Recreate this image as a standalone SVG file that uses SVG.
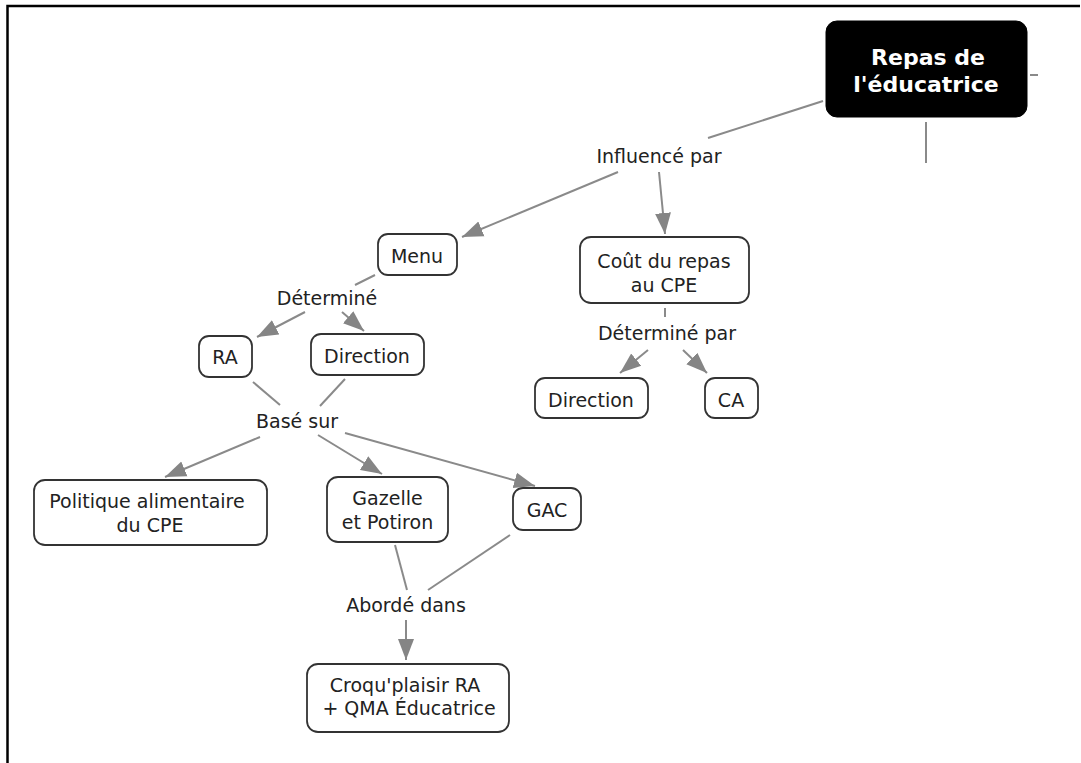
<svg xmlns="http://www.w3.org/2000/svg" width="1081" height="763" viewBox="0 0 1081 763">
  <style>
    .frame { stroke: #000; stroke-width: 2.5; fill: none; }
    .node rect { fill: #fff; stroke: #333; stroke-width: 1.8; }
    .node text, .label { font-family: "DejaVu Sans", Verdana, sans-serif; font-size: 19px; fill: #222; text-anchor: middle; }
    .root rect { fill: #000; stroke: #000; }
    .root text { font-family: "DejaVu Sans", Verdana, sans-serif; font-size: 22px; font-weight: bold; fill: #fff; text-anchor: middle; }
    .link { stroke: #8a8a8a; stroke-width: 2; fill: none; }
    .arrow { marker-end: url(#head); }
  </style>
  <defs>
    <marker id="head" markerUnits="userSpaceOnUse" markerWidth="22" markerHeight="18" refX="21" refY="9" orient="auto">
      <path d="M0,1 L21,9 L0,17 z" fill="#858585"/>
    </marker>
  </defs>

  <rect width="1081" height="763" fill="#fff"/>
  <!-- outer frame (top and left edges) -->
  <path class="frame" d="M7.5,763 L7.5,6 L1080,6"/>

  <!-- connectors -->
  <g id="connectors">
    <line class="link" x1="823" y1="101" x2="708" y2="138"/>
    <line class="link" x1="1030" y1="75" x2="1038" y2="75"/>
    <line class="link" x1="926" y1="122" x2="926" y2="163"/>
    <line class="link arrow" x1="618" y1="172" x2="462" y2="237"/>
    <line class="link arrow" x1="659" y1="172" x2="665" y2="234"/>
    <line class="link" x1="665" y1="308" x2="665" y2="317"/>
    <line class="link arrow" x1="648" y1="350" x2="620" y2="373"/>
    <line class="link arrow" x1="683" y1="350" x2="707" y2="373"/>
    <line class="link" x1="375" y1="275" x2="355" y2="285"/>
    <line class="link arrow" x1="305" y1="312" x2="257" y2="337"/>
    <line class="link arrow" x1="342" y1="312" x2="364" y2="331"/>
    <line class="link" x1="253" y1="382" x2="280" y2="405"/>
    <line class="link" x1="345" y1="379" x2="320" y2="406"/>
    <line class="link arrow" x1="260" y1="437" x2="165" y2="477"/>
    <line class="link arrow" x1="318" y1="435" x2="382" y2="474"/>
    <line class="link arrow" x1="345" y1="433" x2="535" y2="486"/>
    <line class="link" x1="395" y1="545" x2="407" y2="590"/>
    <line class="link" x1="510" y1="535" x2="428" y2="590"/>
    <line class="link arrow" x1="406" y1="620" x2="406" y2="660"/>
  </g>

  <!-- linking phrases -->
  <g id="phrases">
    <text class="label" x="659" y="163">Influencé par</text>
    <text class="label" x="667" y="340">Déterminé par</text>
    <text class="label" x="327" y="305">Déterminé</text>
    <text class="label" x="297" y="428">Basé sur</text>
    <text class="label" x="406" y="612">Abordé dans</text>
  </g>

  <!-- concepts -->
  <g id="repas-educatrice" class="root">
    <rect x="826" y="21" width="201" height="96" rx="11"/>
    <text x="928" y="65">Repas de</text>
    <text x="926" y="92">l'éducatrice</text>
  </g>
  <g id="menu" class="node">
    <rect x="378" y="234" width="79" height="41" rx="10"/>
    <text x="417" y="263">Menu</text>
  </g>
  <g id="cout-repas" class="node">
    <rect x="580" y="237" width="169" height="66" rx="11"/>
    <text x="664" y="268">Coût du repas</text>
    <text x="664" y="292">au CPE</text>
  </g>
  <g id="direction-cout" class="node">
    <rect x="535" y="378" width="113" height="40" rx="10"/>
    <text x="591" y="407">Direction</text>
  </g>
  <g id="ca" class="node">
    <rect x="705" y="378" width="53" height="40" rx="10"/>
    <text x="731" y="407">CA</text>
  </g>
  <g id="ra" class="node">
    <rect x="199" y="336" width="53" height="41" rx="10"/>
    <text x="225" y="364">RA</text>
  </g>
  <g id="direction-menu" class="node">
    <rect x="311" y="334" width="113" height="41" rx="10"/>
    <text x="367" y="363">Direction</text>
  </g>
  <g id="politique" class="node">
    <rect x="34" y="480" width="233" height="65" rx="11"/>
    <text x="147" y="508">Politique alimentaire</text>
    <text x="150" y="532">du CPE</text>
  </g>
  <g id="gazelle-potiron" class="node">
    <rect x="327" y="477" width="121" height="65" rx="11"/>
    <text x="387.5" y="505">Gazelle</text>
    <text x="387.5" y="529">et Potiron</text>
  </g>
  <g id="gac" class="node">
    <rect x="513" y="488" width="68" height="42" rx="10"/>
    <text x="547" y="517">GAC</text>
  </g>
  <g id="croqu-plaisir" class="node">
    <rect x="307" y="664" width="202" height="68" rx="11"/>
    <text x="405" y="692">Croqu'plaisir RA</text>
    <text x="409" y="715">+ QMA Éducatrice</text>
  </g>
</svg>
